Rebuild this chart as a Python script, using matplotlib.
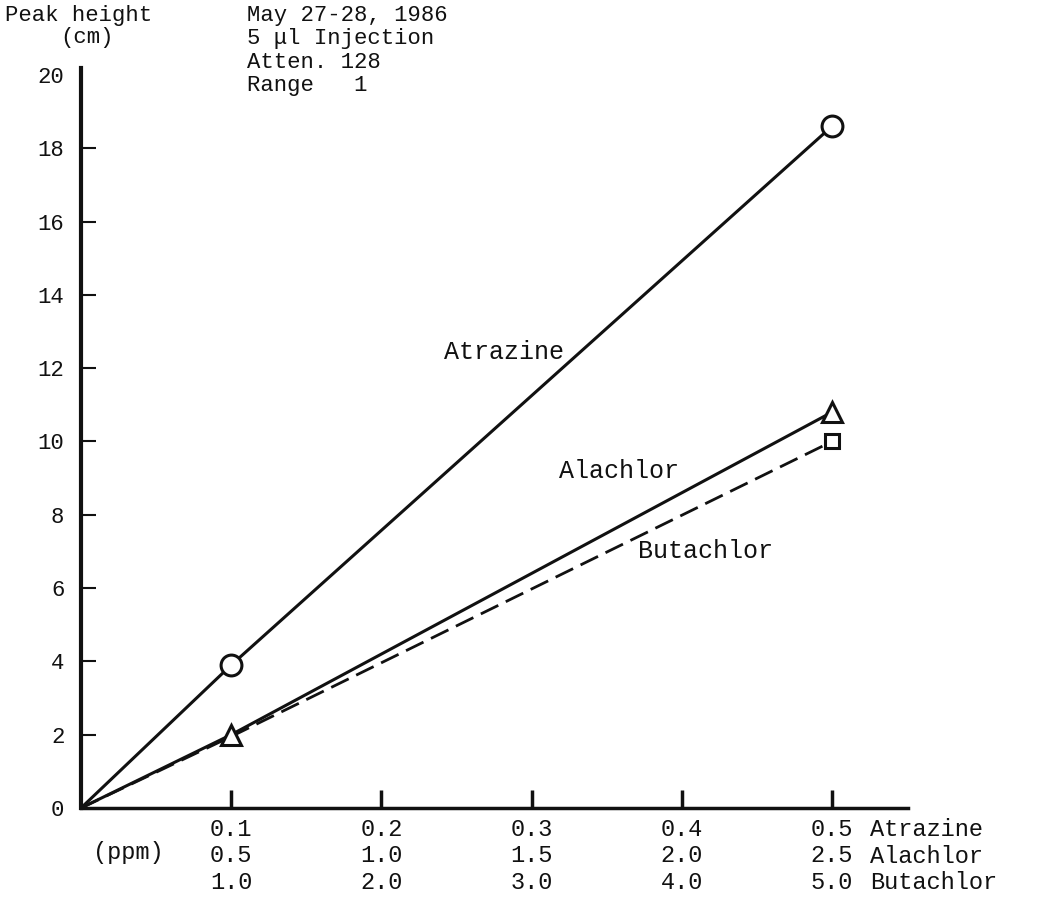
import matplotlib
matplotlib.use('Agg')
import matplotlib.pyplot as plt

W, H = 1038, 899

# concentrations (ppm of atrazine on the axis; alachlor x5, butachlor x10)
conc_atrazine = [0.0, 0.1, 0.5]
atrazine = [0.0, 3.9, 18.6]
alachlor = [0.0, 2.0, 10.8]
butachlor = [0.0, 1.95, 10.0]

xtick_pos = [0.1, 0.2, 0.3, 0.4, 0.5]
atrazine_ticks = ['0.1', '0.2', '0.3', '0.4', '0.5']
alachlor_ticks = ['0.5', '1.0', '1.5', '2.0', '2.5']
butachlor_ticks = ['1.0', '2.0', '3.0', '4.0', '5.0']
ytick_pos = list(range(0, 21, 2))

header = ['May 27-28, 1986', '5 \u03bcl Injection', 'Atten. 128', 'Range   1']

plt.rcParams['font.family'] = ['Liberation Mono', 'DejaVu Sans Mono']
ink = '#111111'


def px(x, y):
    return x / W, 1 - y / H


fig = plt.figure(figsize=(W / 100, H / 100), dpi=100)
ax = fig.add_axes([81 / W, 1 - 808 / H, (908 - 81) / W, (808 - 68) / H])

ax.plot(conc_atrazine, atrazine, color=ink, lw=2.2, marker='o',
        markevery=[1, 2], ms=15, mfc='white', mec=ink, mew=2.2, zorder=3)
ax.plot(conc_atrazine, alachlor, color=ink, lw=2.2, marker='^',
        markevery=[1, 2], ms=14, mfc='white', mec=ink, mew=2.2, zorder=3)
ax.plot(conc_atrazine, butachlor, color=ink, lw=2.0, ls=(0, (7, 3)),
        marker='s', markevery=[2], ms=10, mfc='white', mec=ink, mew=2.2,
        zorder=2)

ax.set_xlim(0, 0.5506)
ax.set_ylim(0, 20.19)

for side in ['top', 'right']:
    ax.spines[side].set_visible(False)
ax.spines['left'].set_linewidth(3)
ax.spines['bottom'].set_linewidth(2.5)
ax.spines['left'].set_color(ink)
ax.spines['bottom'].set_color(ink)

ax.set_yticks(ytick_pos)
ax.set_yticklabels([str(v) for v in ytick_pos])
ax.tick_params(axis='y', direction='in', length=11, width=1.5, pad=12,
               labelsize=16, colors=ink)
ax.yaxis.get_major_ticks()[0].tick1line.set_visible(False)
ax.yaxis.get_major_ticks()[-1].tick1line.set_visible(False)

ax.set_xticks(xtick_pos)
ax.set_xticklabels(['\n'.join(t) for t in zip(atrazine_ticks, alachlor_ticks,
                                              butachlor_ticks)],
                   linespacing=1.2)
ax.tick_params(axis='x', direction='in', length=13, width=2.5, pad=7,
               labelsize=17, colors=ink)

fig.text(*px(870, 818), 'Atrazine\nAlachlor\nButachlor', fontsize=17,
         va='top', ha='left', linespacing=1.2, color=ink)
fig.text(*px(93, 853), '(ppm)', fontsize=17, va='center', ha='left', color=ink)

# line labels
ax.text(0.242, 12.45, 'Atrazine', fontsize=18, va='center', ha='left', color=ink)
ax.text(0.318, 9.2, 'Alachlor', fontsize=18, va='center', ha='left', color=ink)
ax.text(0.371, 7.0, 'Butachlor', fontsize=18, va='center', ha='left', color=ink)

# header
fig.text(*px(5, 15), 'Peak height', fontsize=16, va='center', ha='left', color=ink)
fig.text(*px(60, 38), '(cm)', fontsize=16, va='center', ha='left', color=ink)
for i, line in enumerate(header):
    fig.text(*px(247, 15 + 23.5 * i), line, fontsize=16, va='center',
             ha='left', color=ink)

fig.savefig('out.png', dpi=100)
